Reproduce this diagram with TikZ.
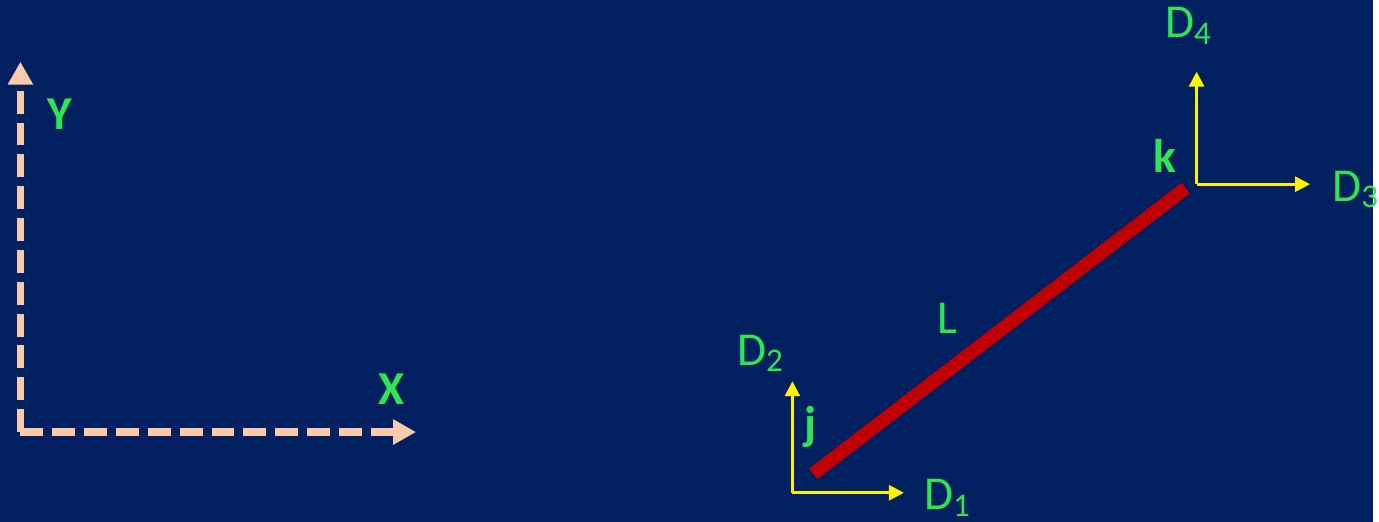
\documentclass[tikz,border=0pt]{standalone}
\usepackage{fontspec}
\setmainfont{Carlito}
\usetikzlibrary{arrows.meta}
\definecolor{navy}{RGB}{0,32,96}
\definecolor{peach}{RGB}{248,203,173}
\definecolor{lblgreen}{RGB}{47,230,82}
\definecolor{barred}{RGB}{192,0,0}
\begin{document}
\begin{tikzpicture}[x=0.02cm, y=-0.02cm,
    every node/.style={text=lblgreen, font=\fontsize{27}{32}\selectfont, inner sep=0pt},
    axis/.style={peach, line width=0.15cm, dash pattern=on 0.46cm off 0.18cm,
        -{Triangle[length=0.46cm, width=0.48cm]}},
    dof/.style={yellow, line width=0.06cm, -{Triangle[length=0.3cm, width=0.3cm]}}]

    % Background
    \fill[navy] (0,0) rectangle (1379,524);

    % Global axes
    \coordinate (o) at (20.5,434);
    \coordinate (xend) at (418,434);
    \coordinate (yend) at (20.5,62);
    \draw[axis] (o) -- (xend);
    \draw[axis] (o) -- (yend);
    \node (xlbl) at (393,406) [anchor=base] {\textbf{X}};
    \node (ylbl) at (60,130) [anchor=base] {\textbf{Y}};

    % Member
    \coordinate (j) at (817,476);
    \coordinate (k) at (1191,189);
    \draw[barred, line width=0.27cm] (j) -- (k);
    \node (jlbl) at (814,441) [anchor=base] {\textbf{j}};
    \node (klbl) at (1170,173) [anchor=base] {\textbf{k}};
    \node (len) at (952,335) [anchor=base] {L};

    % Degrees of freedom
    \coordinate (jc) at (796,495);
    \coordinate (d1) at (908,495);
    \coordinate (d2) at (796,383);
    \coordinate (kc) at (1202,185);
    \coordinate (d3) at (1316,185);
    \coordinate (d4) at (1202,72);
    \draw[dof] (jc) -- (d1);
    \draw[dof] (jc) -- (d2);
    \draw[dof] (kc) -- (d3);
    \draw[dof] (kc) -- (d4);
    \node (d1lbl) at (928,512) [anchor=base west] {D\textsubscript{1}};
    \node (d2lbl) at (740,367) [anchor=base west] {D\textsubscript{2}};
    \node (d3lbl) at (1338,202) [anchor=base west] {D\textsubscript{3}};
    \node (d4lbl) at (1170,38) [anchor=base west] {D\textsubscript{4}};

    \useasboundingbox (0,0) rectangle (1379,524);
\end{tikzpicture}
\end{document}
